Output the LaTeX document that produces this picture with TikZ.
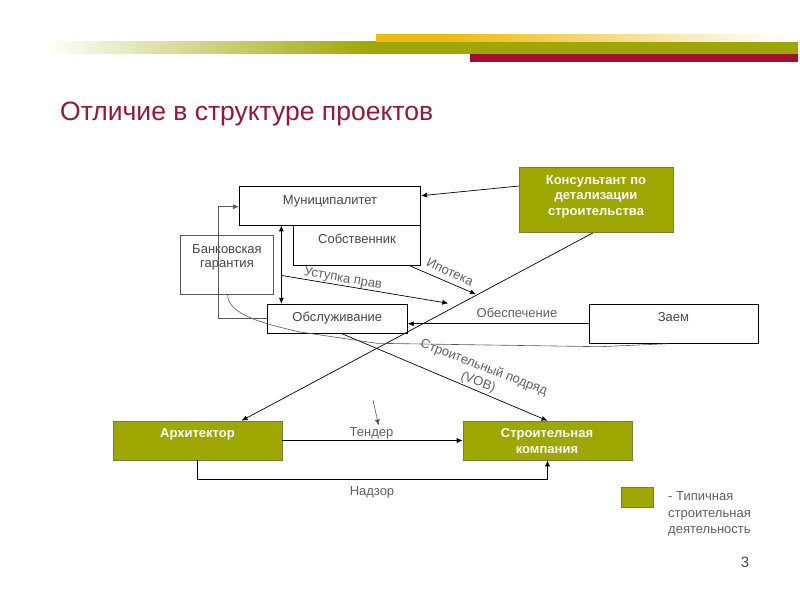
\documentclass[tikz,border=0pt]{standalone}
\usepackage{fontspec}
\setmainfont{Liberation Sans}
\usetikzlibrary{arrows.meta,positioning,calc}

\definecolor{olivefill}{RGB}{158,166,0}
\definecolor{oliveline}{RGB}{120,124,60}
\definecolor{orangebar}{RGB}{238,186,16}
\definecolor{redbar}{RGB}{164,14,46}
\definecolor{titlered}{RGB}{150,24,52}
\definecolor{textgray}{RGB}{72,72,72}
\definecolor{labelgray}{RGB}{96,96,96}
\definecolor{linegray}{RGB}{88,88,88}

\begin{document}
\begin{tikzpicture}[x=1pt, y=-1pt, >={Latex[length=6pt,width=5pt]},
        plainbox/.style={draw, line width=0.8pt, fill=white, inner sep=0pt},
        olivebox/.style={draw=oliveline, line width=0.6pt, fill=olivefill, inner sep=0pt},
        boxtext/.style={font=\fontsize{13}{14}\selectfont, text=textgray, align=center, inner sep=0pt},
        whitetext/.style={font=\bfseries\fontsize{13}{15.5}\selectfont, text=white, align=center, inner sep=0pt},
        linelabel/.style={font=\fontsize{13}{16}\selectfont, text=labelgray, align=center, inner sep=0pt},
        arrowline/.style={->, line width=0.7pt},
        grayline/.style={draw=linegray, line width=0.6pt},
        ]

    % Canvas and header bars
    \useasboundingbox (0,0) rectangle (800,600);
    \shade[left color=white, right color=olivefill] (45,41.7) rectangle (376,53.5);
    \fill[olivefill] (376,41.7) rectangle (798,53.5);
    \fill[orangebar] (376,34.3) rectangle (450,41.7);
    \shade[left color=orangebar, right color=white] (450,34.3) rectangle (785,41.7);
    \fill[redbar] (470,53.5) rectangle (798,62.3);
    \node[anchor=base west, inner sep=0pt, font=\fontsize{26.5}{30}\selectfont, text=titlered] (title) at (60,120.5) {Отличие в структуре проектов};

    % Boxes
    \node[plainbox, minimum width=127.3pt, minimum height=40.7pt] (owner) at (357,245.3) {};
    \node[plainbox, minimum width=181.3pt, minimum height=39pt] (municipality) at (330,205.5) {};
    \node[plainbox, draw=linegray, minimum width=93pt, minimum height=59.3pt] (bank) at (227.2,264.7) {};
    \node[plainbox, minimum width=140pt, minimum height=29pt] (service) at (337.3,318.7) {};
    \node[olivebox, minimum width=154pt, minimum height=65.4pt] (consultant) at (596.3,200) {};
    \node[plainbox, minimum width=169pt, minimum height=39.3pt] (loan) at (673.8,323.7) {};
    \node[olivebox, minimum width=169pt, minimum height=39pt] (architect) at (197.5,440.5) {};
    \node[olivebox, minimum width=169pt, minimum height=39pt] (builder) at (547.5,440.5) {};
    \node[olivebox, minimum width=32pt, minimum height=20pt] (legend) at (637,497) {};

    % Box texts
    \node[boxtext, anchor=base] (municipality-text) at (330,204) {Муниципалитет};
    \node[boxtext, anchor=base] (owner-text) at (357,243.5) {Собственник};
    \node[boxtext] (bank-text) at (227,257.5) {Банковская\\гарантия};
    \node[boxtext, anchor=base] (service-text) at (337.3,321.5) {Обслуживание};
    \node[boxtext, anchor=base] (loan-text) at (673.5,321.5) {Заем};
    \node[whitetext] (consultant-text) at (596,196.5) {Консультант по\\детализации\\строительства};
    \node[whitetext, anchor=base] (architect-text) at (197.5,437) {Архитектор};
    \node[whitetext] (builder-text) at (547,441) {Строительная\\компания};

    % Connectors
    \coordinate (link-top) at ($(municipality.south west)+(42.4,0)$);
    \coordinate (rights-start) at ($(link-top)+(0,50)$);
    \coordinate (rights-end) at (448.3,303.3);
    \coordinate (mortgage-start) at ($(owner.south east)+(-10.7,0)$);
    \coordinate (mortgage-end) at (476,294.3);
    \coordinate (hint-start) at (373,400);
    \coordinate (hint-end) at (378.6,425.5);
    \draw[arrowline, <->] (link-top) -- (link-top |- service.north);
    \draw[arrowline] (rights-start) -- (rights-end);
    \draw[arrowline] (mortgage-start) -- (mortgage-end);
    \draw[arrowline] ($(consultant.north west)+(0,19)$) -- ($(municipality.east)+(0,-9.8)$);
    \draw[arrowline] ($(consultant.south)+(-3.6,0)$) -- ($(architect.north)+(44,0)$);
    \draw[arrowline] (loan.west) -- (loan.west -| service.east);
    \draw[arrowline] ($(service.south)+(4.4,0)$) -- (builder.north);
    \draw[arrowline] (architect.east) -- (builder.west);
    \draw[arrowline] (architect.south) -- ++(0,19.5) -| (builder.south);
    \draw[grayline, ->] (service.west) -- ++(-48.3,0) |- ($(municipality.west)+(0,1.2)$);
    \draw[grayline] ($(bank.south)+(0.5,0)$) .. controls +(0,20) and +(-35,-8) .. (300,332) -- (377,343.3) -- (600,346.7) -- ($(loan.south)+(-6.8,0)$);
    \draw[grayline, ->] (hint-start) -- (hint-end);

    % Line labels
    \node[linelabel, rotate=-10] (rights-label) at (343,279) {Уступка прав};
    \node[linelabel, rotate=-24] (mortgage-label) at (450,272) {Ипотека};
    \node[linelabel, anchor=base] (security-label) at (517,317) {Обеспечение};
    \node[linelabel, rotate=-21] (contract-label) at (481,375) {Строительный подряд\\(VOB)};
    \node[linelabel, anchor=base] (tender-label) at (371.5,436) {Тендер};
    \node[linelabel, anchor=base] (supervision-label) at (372,495) {Надзор};

    % Legend and page number
    \node[linelabel, align=left, anchor=west, font=\fontsize{13}{16.5}\selectfont] (legend-text) at (668,514) {- Типичная\\строительная\\деятельность};
    \node[anchor=base, inner sep=0pt, font=\fontsize{15}{18}\selectfont, text=textgray] (page-number) at (745,567) {3};

\end{tikzpicture}
\end{document}
